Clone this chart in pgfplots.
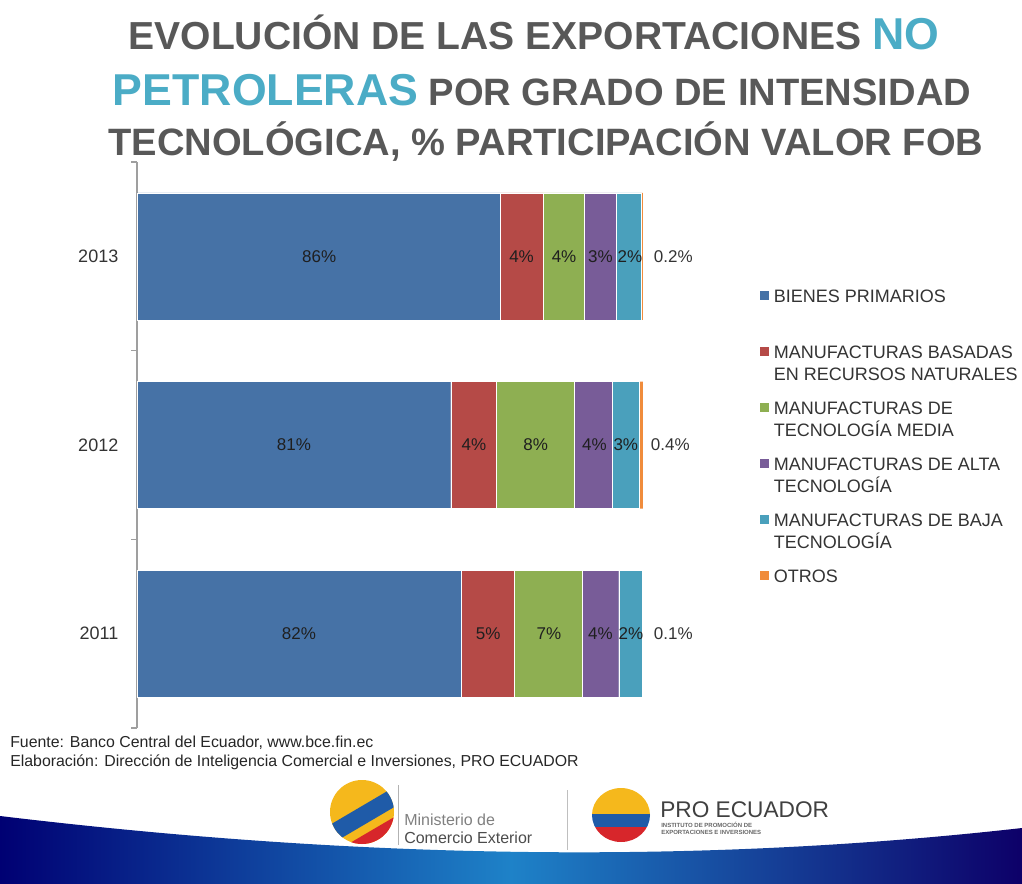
\documentclass[border=0pt]{standalone}
\usepackage{pgfplots}
\pgfplotsset{compat=1.18}
\usepackage{fontspec}
\setmainfont{Liberation Sans}
\definecolor{tgray}{HTML}{585858}
\definecolor{tteal}{HTML}{4BACC6}
\definecolor{cBlue}{RGB}{70,114,166}
\definecolor{cRed}{RGB}{181,74,71}
\definecolor{cGreen}{RGB}{142,175,82}
\definecolor{cPurple}{RGB}{120,92,152}
\definecolor{cTeal}{RGB}{74,160,188}
\definecolor{cOrange}{RGB}{240,140,60}
\definecolor{lgray}{HTML}{333333}
\definecolor{lyellow}{HTML}{F5B81C}
\definecolor{lblue}{HTML}{1F5BA8}
\definecolor{lred}{HTML}{D7262B}
\begin{document}
\begin{tikzpicture}
\useasboundingbox (0pt,0pt) rectangle (766.5pt,-663pt);
\begin{scope}[x=0.75pt,y=-0.75pt]
% bottom band
\shade[left color=blue!45!black, right color=blue!40!black!90!violet, middle color={rgb,255:red,30;green,130;blue,200}]
  (0,816) .. controls (300,852) and (650,870) .. (1022,828) -- (1022,884) -- (0,884) -- cycle;
% title
\node[anchor=base, font=\fontsize{29.3}{31}\selectfont\bfseries, text=tgray] at (534,50)
  {EVOLUCIÓN DE LAS EXPORTACIONES {\fontsize{33.5}{33}\selectfont\color{tteal}NO}};
\node[anchor=base, font=\fontsize{28.6}{30}\selectfont\bfseries, text=tgray] at (542,106)
  {{\fontsize{33.5}{33}\selectfont\color{tteal}PETROLERAS} POR GRADO DE INTENSIDAD};
\node[anchor=base, font=\fontsize{28.6}{30}\selectfont\bfseries, text=tgray] at (546,156)
  {TECNOLÓGICA, \% PARTICIPACIÓN VALOR FOB};
% footer
\node[anchor=base west, inner sep=0pt, font=\fontsize{11.9}{13}\selectfont, text=black!85] at (10,747)
  {Fuente: Banco Central del Ecuador, www.bce.fin.ec};
\node[anchor=base west, inner sep=0pt, font=\fontsize{11.9}{13}\selectfont, text=black!85] at (10,766)
  {Elaboración: Dirección de Inteligencia Comercial e Inversiones, PRO ECUADOR};
% logos (simplified)
\begin{scope}
\clip (362,812) circle (32);
\fill[lyellow] (328,778) rectangle (396,846);
\fill[lblue] (328,826) -- (396,786) -- (396,806) -- (328,846) -- cycle;
\fill[lred] (338,850) -- (396,816) -- (396,850) -- cycle;
\end{scope}
\draw[gray!60, line width=0.6pt] (398,785) -- (398,845);
\node[anchor=base west, inner sep=0pt, font=\fontsize{12}{13}\selectfont, text=gray] at (404,825) {Ministerio de};
\node[anchor=base west, inner sep=0pt, font=\fontsize{12}{13}\selectfont, text=black!70] at (404,843) {Comercio Exterior};
\draw[gray!50, line width=0.6pt] (567,790) -- (567,850);
\begin{scope}
\clip (621,815) ellipse (29 and 27);
\fill[lyellow] (590,786) rectangle (652,814);
\fill[lblue] (590,814) rectangle (652,827);
\fill[lred] (590,827) rectangle (652,844);
\end{scope}
\node[anchor=base west, inner sep=0pt, font=\fontsize{17}{18}\selectfont, text=black!75] at (660,817) {PRO ECUADOR};
\node[anchor=base west, inner sep=0pt, font=\fontsize{4.5}{5}\selectfont\bfseries, text=black!60] at (661,827) {INSTITUTO DE PROMOCIÓN DE};
\node[anchor=base west, inner sep=0pt, font=\fontsize{4.5}{5}\selectfont\bfseries, text=black!60] at (661,834) {EXPORTACIONES E INVERSIONES};
\end{scope}

\begin{axis}[
  at={(102.75pt,-546pt)}, anchor=south west,
  scale only axis, width=379.5pt, height=424.5pt,
  xbar stacked, bar width=95.25pt,
  xmin=50, xmax=100, ymin=-0.5, ymax=2.5,
  axis lines*=left,
  x axis line style={draw=none}, xtick=\empty,
  y axis line style={draw=gray!75, line width=0.8pt},
  ytick={0,1,2}, yticklabels={2011,2012,2013},
  tick align=outside, major tick length=4.5pt,
  ytick style={draw=none},
  extra y ticks={-0.5,0.5,1.5,2.5}, extra y tick labels={},
  extra y tick style={ytick style={draw=gray!75, line width=0.8pt}},
  yticklabel style={font=\fontsize{13.5}{15}\selectfont, text=lgray, xshift=-6pt},
  legend style={at={(1.2312,0.7756)}, anchor=north west, draw=none, fill=none,
    inner sep=0pt, outer sep=0pt, row sep=0pt, column sep=4pt,
    nodes={inner sep=0pt, text height=10pt, text depth=32pt, font=\fontsize{13.5}{16.5}\selectfont, text=lgray},
    cells={anchor=base west}},
  legend image code/.code={\draw[#1,draw=none] (0pt,1.8pt) rectangle (6.4pt,8.2pt);},
]
\addplot[fill=cBlue, draw=white, line width=0.3pt] coordinates {(82.0,0) (81.0,1) (85.9,2)};
\addplot[fill=cRed, draw=white, line width=0.3pt] coordinates {(5.3,0) (4.5,1) (4.2,2)};
\addplot[fill=cGreen, draw=white, line width=0.3pt] coordinates {(6.7,0) (7.7,1) (4.1,2)};
\addplot[fill=cPurple, draw=white, line width=0.3pt] coordinates {(3.6,0) (3.8,1) (3.2,2)};
\addplot[fill=cTeal, draw=white, line width=0.3pt] coordinates {(2.3,0) (2.6,1) (2.4,2)};
\addplot[fill=cOrange, draw=none] coordinates {(0.1,0) (0.4,1) (0.2,2)};
\addlegendentry{\parbox[t]{6.5cm}{BIENES PRIMARIOS}}
\addlegendentry{\parbox[t]{6.5cm}{MANUFACTURAS BASADAS\newline EN RECURSOS NATURALES}}
\addlegendentry{\parbox[t]{6.5cm}{MANUFACTURAS DE\newline TECNOLOGÍA MEDIA}}
\addlegendentry{\parbox[t]{6.5cm}{MANUFACTURAS DE ALTA\newline TECNOLOGÍA}}
\addlegendentry{\parbox[t]{6.5cm}{MANUFACTURAS DE BAJA\newline TECNOLOGÍA}}
\addlegendentry{\parbox[t]{6.5cm}{OTROS}}
\end{axis}

\begin{axis}[
  at={(102.75pt,-546pt)}, anchor=south west,
  scale only axis, width=379.5pt, height=424.5pt,
  xmin=50, xmax=100, ymin=-0.5, ymax=2.5,
  hide axis, clip=false,
]
\addplot[only marks, mark=none, nodes near coords, point meta=explicit symbolic,
  nodes near coords style={anchor=center, font=\fontsize{12.75}{14}\selectfont, text=black!88}]
  coordinates {
  (68.0,2) [86\%] (88.0,2) [4\%] (92.2,2) [4\%] (95.8,2) [3\%] (98.7,2) [2\%]
  (65.5,1) [81\%] (83.3,1) [4\%] (89.4,1) [8\%] (95.2,1) [4\%] (98.3,1) [3\%]
  (66.0,0) [82\%] (84.7,0) [5\%] (90.7,0) [7\%] (95.8,0) [4\%] (98.8,0) [2\%]
  };
\addplot[only marks, mark=none, nodes near coords, point meta=explicit symbolic,
  nodes near coords style={anchor=center, font=\fontsize{12.75}{14}\selectfont, text=black!80}]
  coordinates {(103.0,2) [0.2\%] (102.7,1) [0.4\%] (103.0,0) [0.1\%]};
\end{axis}
\end{tikzpicture}
\end{document}
